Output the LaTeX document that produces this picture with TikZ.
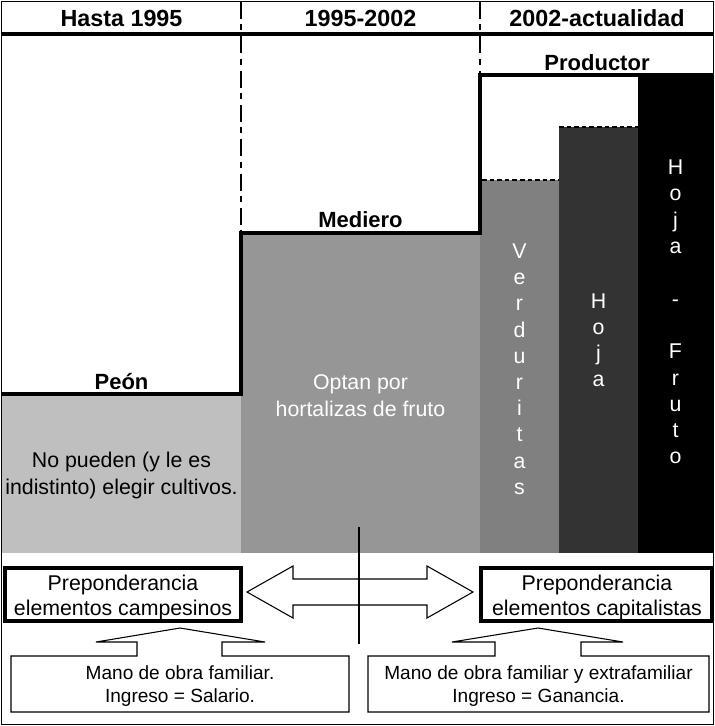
\documentclass[tikz,border=0pt]{standalone}
\usepackage{fontspec}
\setmainfont{Liberation Sans}
\definecolor{peongray}{gray}{0.75}
\definecolor{medgray}{gray}{0.59}
\definecolor{verdgray}{gray}{0.5}
\definecolor{hojagray}{gray}{0.2}
\begin{document}
\begin{tikzpicture}
[
 x=0.75pt, y=-0.75pt,
 inner sep=0mm,
 HEAD/.style={anchor=base, font=\fontsize{17.5}{20}\selectfont\bfseries},
 LABEL/.style={anchor=base, font=\fontsize{16.5}{20}\selectfont\bfseries},
 BODY/.style={align=center, font=\fontsize{16}{20.25}\selectfont},
 WBODY/.style={BODY, text=white},
 VLETTER/.style={anchor=base, text=white, font=\fontsize{16}{20}\selectfont},
 BIGBOX/.style={rectangle, draw=black, line width=3pt, fill=white, minimum height=39.75pt},
 BOXTXT/.style={align=center, font=\fontsize{16}{18.75}\selectfont},
 SMALLTXT/.style={align=center, font=\fontsize{14.3}{17.25}\selectfont},
 OUTLINE/.style={draw=black, line width=0.8pt, fill=white},
 STAIR/.style={line width=3pt},
 SEPLINE/.style={line width=1.5pt, dash pattern=on 12.75pt off 4pt on 4.5pt off 4.5pt},
 DOTLINE/.style={line width=1.6pt, dash pattern=on 3.4pt off 2.3pt},
 ]
%
\useasboundingbox (0,0) rectangle (715,726);
%
\fill [peongray] (2,395) rectangle (241,553);
\fill [medgray]  (241,233) rectangle (480,553);
\fill [verdgray] (480,180) rectangle (559,553);
\fill [hojagray] (559,127) rectangle (638,553);
\fill [black]    (638,75)  rectangle (713,553);
%
\draw [SEPLINE]  (241,2) -- (241,233);
\draw [SEPLINE]  (480,2) -- (480,75);
\draw [DOTLINE]  (482,180) -- (559,180);
\draw [DOTLINE]  (559,127) -- (638,127);
%
\draw [STAIR]  (2,393.5) -- (241,393.5) -- (241,233) -- (480,233) -- (480,75) -- (713,75);
\draw [line width=2.6pt]  (2,34) -- (713,34);
\draw [line width=1.1pt]  (1.5,1.5) rectangle (713.5,724.5);
%
\node [HEAD]  (H1)  at (121.5,26)  {Hasta 1995};
\node [HEAD]  (H2)  at (360.5,26)  {1995-2002};
\node [HEAD]  (H3)  at (597,26)    {2002-actualidad};
%
\node [LABEL]  (PEON)  at (121.5,389)  {Peón};
\node [LABEL]  (MED)   at (360.5,227.5) {Mediero};
\node [LABEL]  (PROD)  at (597,70.5)   {Productor};
%
\node [BODY]   (PEONTXT)  at (121.5,475.5)  {No pueden (y le es\\indistinto) elegir cultivos.};
\node [WBODY]  (MEDTXT)   at (360.5,395.3)  {Optan por\\hortalizas de fruto};
%
\foreach \c [count=\i] in {V,e,r,d,u,r,i,t,a,s}
  { \node [VLETTER] (verd\i) at (519.5, {258.5+26.2*(\i-1)}) {\c}; }
\foreach \c [count=\i] in {H,o,j,a}
  { \node [VLETTER] (hoja\i) at (598.5, {308.3+26.2*(\i-1)}) {\c}; }
\foreach \c [count=\i] in {H,o,j,a,{},-,{},F,r,u,t,o}
  { \node [VLETTER] (hfru\i) at (675.5, {174.6+26.3*(\i-1)}) {\c}; }
%
\node [BIGBOX, minimum width=177pt]    (CAMP)  at (123,594.5)   {};
\node [BIGBOX, minimum width=173.25pt] (CAPI)  at (596.5,594.5) {};
\node [BOXTXT]  (CAMPTXT)  at (123,597.6)   {Preponderancia\\elementos campesinos};
\node [BOXTXT]  (CAPITXT)  at (597,597.6)   {Preponderancia\\elementos capitalistas};
%
\draw [OUTLINE]  (247,592) -- (293,566) -- (293,579) -- (427,579) -- (427,566) -- (473,592)
                 -- (427,618) -- (427,605) -- (293,605) -- (293,618) -- cycle;
\draw [line width=0.8pt]  (359,527) -- (359,644);
%
\draw [OUTLINE]  (11,656) -- (137,656) -- (137,642) -- (96,642) -- (180,628) -- (265,642)
                 -- (222,642) -- (222,656) -- (349,656) -- (349,712) -- (11,712) -- cycle;
\draw [OUTLINE]  (368,656) -- (495,656) -- (495,642) -- (452,642) -- (538,628) -- (623,642)
                 -- (581,642) -- (581,656) -- (709,656) -- (709,712) -- (368,712) -- cycle;
%
\node [SMALLTXT]  (FAMTXT)  at (180,686.4)   {Mano de obra familiar.\\Ingreso = Salario.};
\node [SMALLTXT]  (EXTTXT)  at (538.5,686.4) {Mano de obra familiar y extrafamiliar\\Ingreso = Ganancia.};
%
\end{tikzpicture}
\end{document}
